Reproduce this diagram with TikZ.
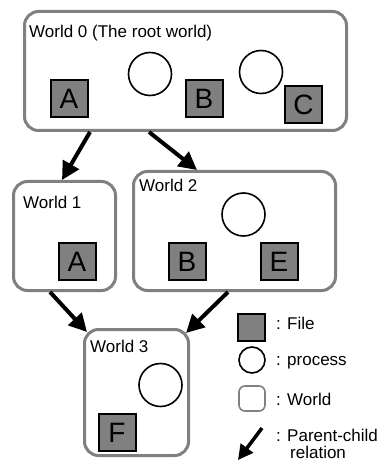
\documentclass[tikz,border=0pt]{standalone}
\usepackage{fontspec}
\setmainfont{Liberation Sans}
\usetikzlibrary{arrows.meta}
\definecolor{wgray}{RGB}{128,128,128}
\definecolor{fgray}{RGB}{128,128,128}
\begin{document}
\begin{tikzpicture}[x=1pt,y=-1pt,
  world/.style={draw=wgray, line width=3pt, rounded corners=14pt, fill=white, inner sep=0pt},
  filebox/.style={draw=black, line width=2pt, fill=fgray, minimum size=37pt, inner sep=0pt, font=\fontsize{28}{28}\selectfont},
  proc/.style={draw=black, line width=1.6pt, circle, minimum size=43pt, inner sep=0pt},
  wlabel/.style={anchor=base west, inner sep=0pt, font=\fontsize{17}{18}\selectfont},
  rel/.style={line width=4pt, -{Triangle[length=18pt,width=18pt]}},
  relsmall/.style={line width=3.5pt, -{Triangle[length=15pt,width=15pt]}}]
\useasboundingbox[fill=white] (0,0) rectangle (382,462);

% worlds
\node[world, minimum width=322pt, minimum height=119pt] (w0) at (185.5,71) {};
\node[world, minimum width=102pt, minimum height=109pt] (w1) at (64.5,236) {};
\node[world, minimum width=202pt, minimum height=119pt] (w2) at (234.5,231) {};
\node[world, minimum width=104pt, minimum height=126pt] (w3) at (136.5,392.5) {};

\node[wlabel] (w0l) at (29,38) {World 0 (The root world)};
\node[wlabel] (w1l) at (23,208) {World 1};
\node[wlabel] (w2l) at (139,192) {World 2};
\node[wlabel] (w3l) at (90,352) {World 3};

% world 0 contents
\node[filebox] (f0a) at (69,99) {A};
\node[proc] (p0a) at (150,74) {};
\node[filebox] (f0b) at (204,99) {B};
\node[proc] (p0b) at (261,72) {};
\node[filebox] (f0c) at (303.5,105) {C};

% world 1 contents
\node[filebox] (f1a) at (77,261.5) {A};

% world 2 contents
\node[proc] (p2) at (243.5,214.5) {};
\node[filebox] (f2b) at (187,261.5) {B};
\node[filebox] (f2e) at (279,261.5) {E};

% world 3 contents
\node[proc] (p3) at (160.5,385) {};
\node[filebox] (f3f) at (117,432.5) {F};

% parent-child arrows
\draw[rel] ([xshift=67pt]w0.south west) -- ([xshift=50pt]w1.north west);
\draw[rel] ([xshift=126pt]w0.south west) -- ([xshift=65pt]w2.north west);
\draw[rel] ([xshift=38pt]w1.south west) -- ([xshift=4pt,yshift=-4pt]w3.north west);
\draw[rel] ([xshift=96pt]w2.south west) -- ([xshift=-4pt,yshift=-5pt]w3.north east);

% legend
\node[filebox, minimum size=27pt] (lf) at (251.5,327.5) {};
\node[proc, minimum size=26pt] (lp) at (252,360) {};
\node[world, line width=1.6pt, rounded corners=6pt, minimum width=26pt, minimum height=25pt] (lw) at (252,398.5) {};
\coordinate (lt) at (262,428);
\coordinate (lh) at (238,460);
\draw[relsmall] (lt) -- (lh);

\node[wlabel] (lft) at (276,329) {: File};
\node[wlabel] (lpt) at (276,365) {: process};
\node[wlabel] (lwt) at (276,405) {: World};
\node[wlabel] (lrt1) at (276,441) {: Parent-child};
\node[wlabel] (lrt2) at (290,458) {relation};
\end{tikzpicture}
\end{document}
